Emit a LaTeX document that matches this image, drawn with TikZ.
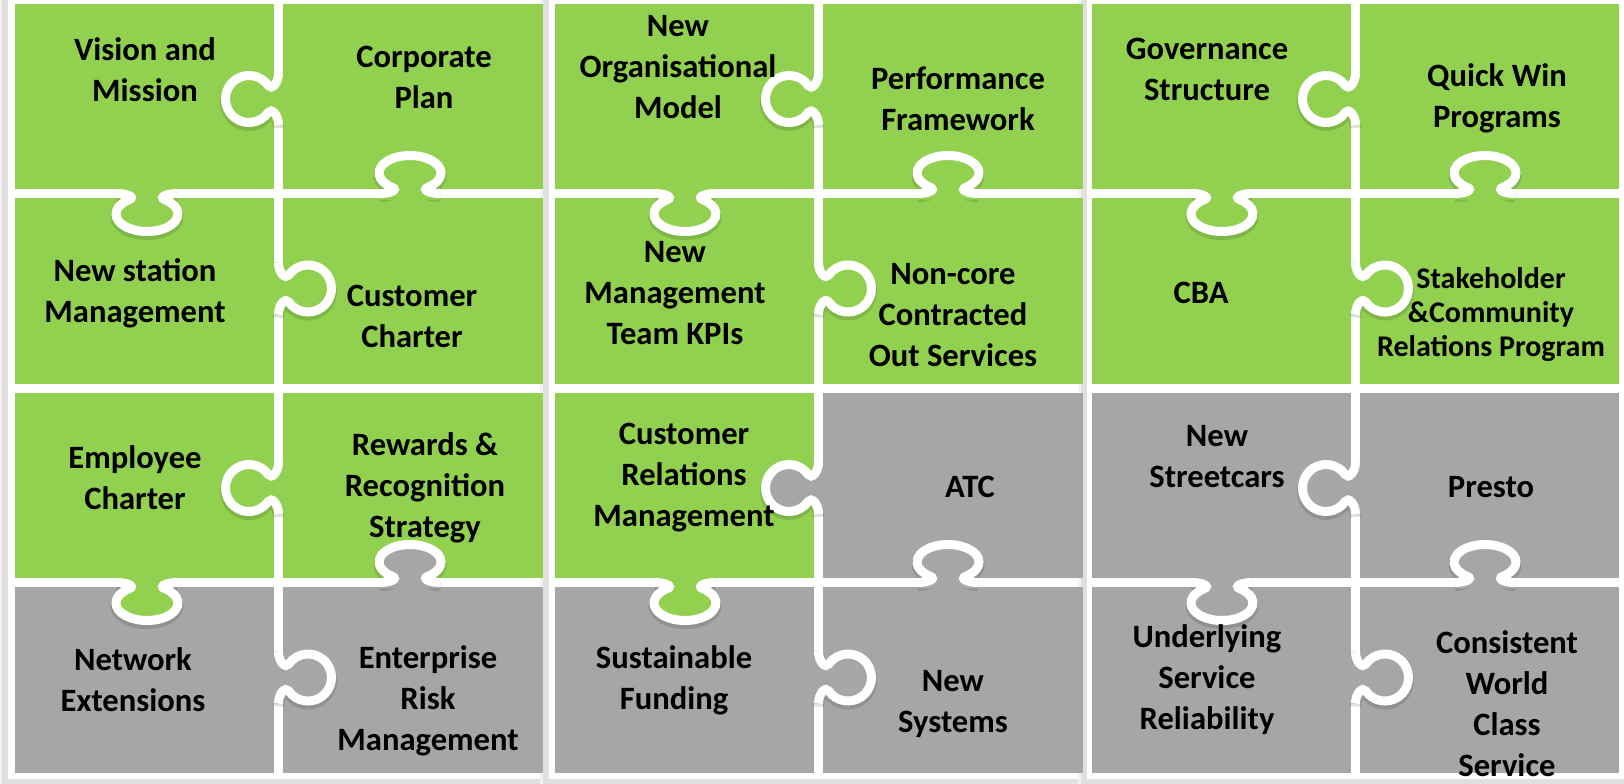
\documentclass[tikz,border=0pt]{standalone}
\usepackage{fontspec}
\setmainfont{Carlito}
\definecolor{leaf}{RGB}{146,208,80}
\definecolor{stone}{RGB}{166,166,166}

\begin{document}
\begin{tikzpicture}[x=0.5pt, y=-0.5pt,
    every node/.style={font=\bfseries\fontsize{16.3}{20.5}\selectfont, align=center, inner sep=0pt},
    seam/.style={white, line width=4.5pt},
    shade/.style={black, opacity=0.12, line width=5.5pt},
    hknob/.code={\def\ka{31}\def\kb{17.5}\def\kc{20.5}\def\ks{30}},
    vknob/.code={\def\ka{23.5}\def\kb{23.5}\def\kc{29.5}\def\ks{26}},
    knob/.pic={
      % soft shadow under the rim, then the tongue, then its white rim
      \draw[shade, shift={(0,3)}, rotate=#1] (-\ks,0)
        .. controls ({-\ks+10},0) and ({-0.369*\ka},{\kc-0.963*\kb}) .. ({-0.574*\ka},{\kc-0.819*\kb})
        arc[start angle=235, end angle=-55, x radius=\ka, y radius=\kb]
        .. controls ({0.369*\ka},{\kc-0.963*\kb}) and ({\ks-10},0) .. (\ks,0);
      \path[pic actions, rotate=#1] (-\ks,-6) -- (-\ks,0)
        .. controls ({-\ks+10},0) and ({-0.369*\ka},{\kc-0.963*\kb}) .. ({-0.574*\ka},{\kc-0.819*\kb})
        arc[start angle=235, end angle=-55, x radius=\ka, y radius=\kb]
        .. controls ({0.369*\ka},{\kc-0.963*\kb}) and ({\ks-10},0) .. (\ks,0) -- (\ks,-6) -- cycle;
      \draw[seam, rotate=#1] (-\ks,0)
        .. controls ({-\ks+10},0) and ({-0.369*\ka},{\kc-0.963*\kb}) .. ({-0.574*\ka},{\kc-0.819*\kb})
        arc[start angle=235, end angle=-55, x radius=\ka, y radius=\kb]
        .. controls ({0.369*\ka},{\kc-0.963*\kb}) and ({\ks-10},0) .. (\ks,0);
    }]
  \useasboundingbox (0,0) rectangle (1624,783);
  % white frame round each block of eight pieces, shadow to the lower left
  \foreach \bl/\br in {8/548, 549/1088, 1087/1630} {
    \fill[black!5] (\bl-9,-5) rectangle (\br-9,788);
    \fill[black!12] (\bl-6,-5) rectangle (\br-6,785);
    \fill[white] (\bl,-5) rectangle (\br,779);
  }
  % pieces
  \foreach \xa/\xb in {15/274, 283/543, 555/814, 823/1083, 1092/1351, 1360/1619} {
    \fill[leaf] (\xa,3.5) rectangle (\xb,189);
    \fill[leaf] (\xa,198) rectangle (\xb,383.5);
    \fill[stone] (\xa,587) rectangle (\xb,772.5);
  }
  \foreach \xa/\xb/\c in {15/274/leaf, 283/543/leaf, 555/814/leaf, 823/1083/stone, 1092/1351/stone, 1360/1619/stone}
    \fill[\c] (\xa,392.5) rectangle (\xb,578);
  % knobs across the vertical seams
  \foreach \xs in {278.5, 818.5, 1355.5} {
    \pic[fill=leaf, vknob] at (\xs,99) {knob=-90};
    \pic[fill=leaf, vknob] at (\xs,288.5) {knob=90};
    \pic[fill=stone, vknob] at (\xs,677.5) {knob=90};
  }
  \pic[fill=leaf, vknob] at (278.5,488) {knob=-90};
  \pic[fill=stone, vknob] at (818.5,488) {knob=-90};
  \pic[fill=stone, vknob] at (1355.5,488) {knob=-90};
  % knobs across the horizontal seams
  \foreach \xl/\xr in {147/410, 685/948, 1222/1485} {
    \pic[fill=leaf, hknob] at (\xl,193.5) {knob=0};
    \pic[fill=leaf, hknob] at (\xr,193.5) {knob=180};
    \pic[fill=stone, hknob] at (\xr,582.5) {knob=180};
  }
  \pic[fill=leaf, hknob] at (147,582.5) {knob=0};
  \pic[fill=leaf, hknob] at (685,582.5) {knob=0};
  \pic[fill=stone, hknob] at (1222,582.5) {knob=0};

  % labels, top row
  \node (vision) at (145,69.5) {Vision and\\Mission};
  \node (corpplan) at (424,77.5) {Corporate\\Plan};
  \node (orgmodel) at (678,67) {New\\Organisational\\Model};
  \node (perform) at (958,98.5) {Performance\\Framework};
  \node (govern) at (1207,69.5) {Governance\\Structure};
  \node (quickwin) at (1497,98.5) {Quick Win\\Programs};
  % second row
  \node (station) at (135,293) {New station\\Management};
  \node (custchart) at (412,316) {Customer\\Charter};
  \node (mgmtkpi) at (675,293) {New\\Management\\Team KPIs};
  \node (noncore) at (953,315) {Non-core\\Contracted\\Out Services};
  \node (cba) at (1201,293) {CBA};
  \node[font=\bfseries\fontsize{15}{17}\selectfont] (stake) at (1491,315) {Stakeholder\\\&Community\\Relations Program};
  % third row
  \node (empchart) at (135,478) {Employee\\Charter};
  \node (rewards) at (425,488) {Rewards \&\\Recognition\\Strategy};
  \node (crm) at (684,478) {Customer\\Relations\\Management};
  \node (atc) at (970,487) {ATC};
  \node (streetcar) at (1217,457) {New\\Streetcars};
  \node (presto) at (1491,487) {Presto};
  % bottom row
  \node (network) at (133,680) {Network\\Extensions};
  \node (risk) at (428,701) {Enterprise\\Risk\\Management};
  \node (funding) at (674,680) {Sustainable\\Funding};
  \node (systems) at (953,704) {New\\Systems};
  \node (reliab) at (1207,680) {Underlying\\Service\\Reliability};
  \node (worldclass) at (1507,704) {Consistent\\World\\Class\\Service};
\end{tikzpicture}
\end{document}
